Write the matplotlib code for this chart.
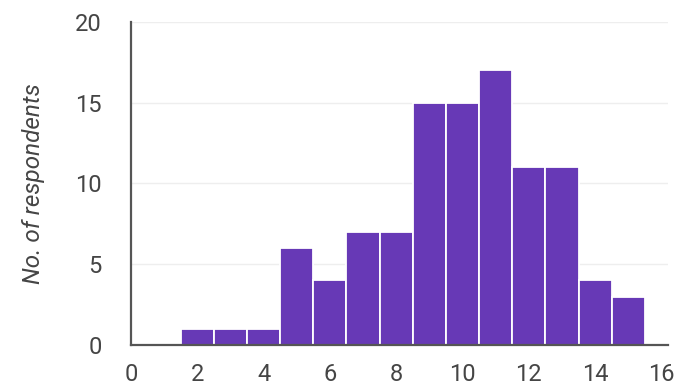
import matplotlib
matplotlib.use("Agg")
import matplotlib.pyplot as plt

bin_centers = [2, 3, 4, 5, 6, 7, 8, 9, 10, 11, 12, 13, 14, 15]
counts = [1, 1, 1, 6, 4, 7, 7, 15, 15, 17, 11, 11, 4, 3]
xticks = [0, 2, 4, 6, 8, 10, 12, 14, 16]
yticks = [0, 5, 10, 15, 20]

plt.rcParams['font.family'] = ['Roboto', 'DejaVu Sans']

fig = plt.figure(figsize=(6.83, 3.83), dpi=100)
ax = fig.add_axes([131/683, 1 - 345/383, (668 - 131)/683, (345 - 22)/383])

ax.bar(bin_centers, counts, width=1.0, color='#6739b6', edgecolor='white', linewidth=1.3, zorder=3)

ax.set_xlim(0, 16.2)
ax.set_ylim(0, 20)
ax.set_xticks(xticks)
ax.set_yticks(yticks)
ax.tick_params(axis='both', length=0, labelsize=17, labelcolor='#454545')
ax.tick_params(axis='x', pad=13)
ax.tick_params(axis='y', pad=21)

ax.grid(axis='y', color='#eeeeee', linewidth=1, zorder=0)
for s in ['top', 'right']:
    ax.spines[s].set_visible(False)
for s in ['left', 'bottom']:
    ax.spines[s].set_color('#555555')
    ax.spines[s].set_linewidth(1.6)
    ax.spines[s].set_zorder(4)

ax.set_ylabel('No. of respondents', fontsize=17.5, style='italic', color='#454545', labelpad=22)

fig.savefig('out.png', dpi=100)
